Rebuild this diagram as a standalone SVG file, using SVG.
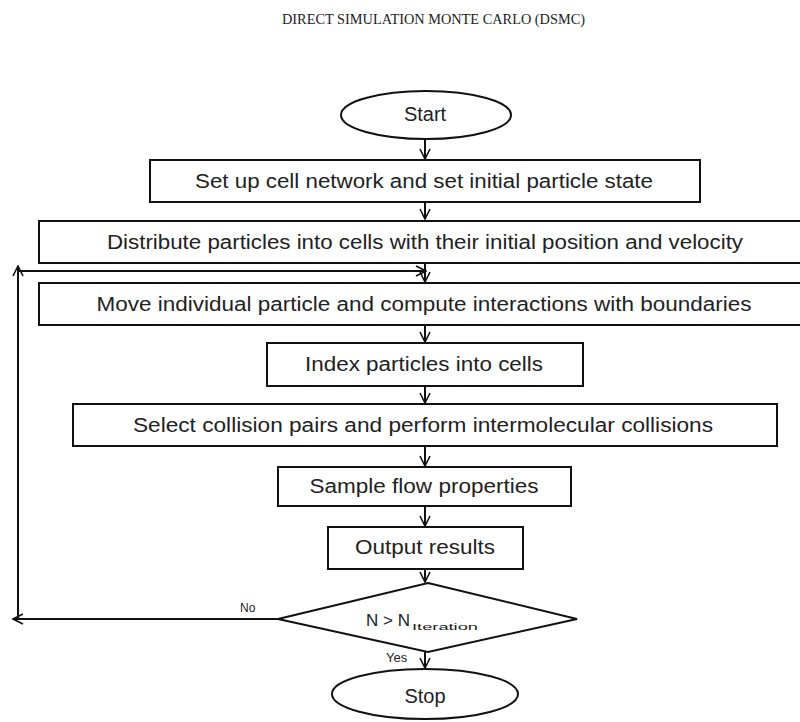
<svg xmlns="http://www.w3.org/2000/svg" width="800" height="722" viewBox="0 0 800 722">
<style>
.box{fill:#fff;stroke:#111;stroke-width:2}
.lbl{font-family:"Liberation Sans",Arial,sans-serif;font-size:20px;fill:#222;text-anchor:middle}
.sm{font-family:"Liberation Sans",Arial,sans-serif;font-size:12px;fill:#222}
.con{fill:none;stroke:#111;stroke-width:2}
.title{font-family:"Liberation Serif","Times New Roman",serif;font-size:15px;fill:#222}
</style>
<defs>
<marker id="arr" viewBox="0 0 12 12" refX="11" refY="6" markerWidth="12" markerHeight="12" markerUnits="userSpaceOnUse" orient="auto">
<path d="M1,1 L11,6 L1,11" fill="none" stroke="#111" stroke-width="1.6"/>
</marker>
</defs>
<rect width="800" height="722" fill="#fff"/>
<text class="title" x="282" y="24" textLength="303" lengthAdjust="spacingAndGlyphs">DIRECT SIMULATION MONTE CARLO (DSMC)</text>

<g id="connectors">
<line class="con" x1="425" y1="139" x2="425" y2="159" marker-end="url(#arr)"/>
<line class="con" x1="425" y1="202" x2="425" y2="219" marker-end="url(#arr)"/>
<line class="con" x1="425" y1="263" x2="425" y2="282" marker-end="url(#arr)"/>
<line class="con" x1="425" y1="325" x2="425" y2="342" marker-end="url(#arr)"/>
<line class="con" x1="425" y1="386" x2="425" y2="403" marker-end="url(#arr)"/>
<line class="con" x1="425" y1="446" x2="425" y2="466" marker-end="url(#arr)"/>
<line class="con" x1="425" y1="506" x2="425" y2="526" marker-end="url(#arr)"/>
<line class="con" x1="425" y1="569" x2="425" y2="582" marker-end="url(#arr)"/>
<line class="con" x1="425" y1="652" x2="425" y2="668" marker-end="url(#arr)"/>
<line class="con" x1="278" y1="619" x2="13" y2="619" marker-end="url(#arr)"/>
<line class="con" x1="18" y1="619" x2="18" y2="266" marker-end="url(#arr)"/>
<line class="con" x1="18" y1="271" x2="426" y2="271" marker-end="url(#arr)"/>
<text class="sm" x="240" y="612">No</text>
<text class="sm" x="386" y="662" style="font-size:13px">Yes</text>
</g>

<g id="start">
<ellipse class="box" cx="426" cy="115" rx="85" ry="24"/>
<text class="lbl" x="425" y="121">Start</text>
</g>
<g id="setup">
<rect class="box" x="150" y="160" width="550" height="42"/>
<text class="lbl" x="424" y="188" textLength="458" lengthAdjust="spacingAndGlyphs">Set up cell network and set initial particle state</text>
</g>
<g id="distribute">
<rect class="box" x="39" y="221" width="775" height="42"/>
<text class="lbl" x="425" y="249" textLength="636" lengthAdjust="spacingAndGlyphs">Distribute particles into cells with their initial position and velocity</text>
</g>
<g id="move">
<rect class="box" x="39" y="283" width="775" height="42"/>
<text class="lbl" x="424" y="311" textLength="655" lengthAdjust="spacingAndGlyphs">Move individual particle and compute interactions with boundaries</text>
</g>
<g id="index">
<rect class="box" x="267" y="343" width="316" height="43"/>
<text class="lbl" x="424" y="371" textLength="238" lengthAdjust="spacingAndGlyphs">Index particles into cells</text>
</g>
<g id="select">
<rect class="box" x="73" y="404" width="704" height="42"/>
<text class="lbl" x="423" y="432" textLength="580" lengthAdjust="spacingAndGlyphs">Select collision pairs and perform intermolecular collisions</text>
</g>
<g id="sample">
<rect class="box" x="278" y="467" width="293" height="39"/>
<text class="lbl" x="424" y="493" textLength="229" lengthAdjust="spacingAndGlyphs">Sample flow properties</text>
</g>
<g id="output">
<rect class="box" x="328" y="527" width="195" height="42"/>
<text class="lbl" x="425" y="554" textLength="140" lengthAdjust="spacingAndGlyphs">Output results</text>
</g>
<g id="decision">
<polygon class="box" points="428,583 577,619 428,652 278,619"/>
<text class="sm" x="366" y="626" style="font-size:17px">N &gt; N</text>
<text class="sm" x="412" y="630" style="font-size:9px" textLength="66" lengthAdjust="spacingAndGlyphs">Iteration</text>
</g>
<g id="stop">
<ellipse class="box" cx="425" cy="694" rx="93" ry="25"/>
<text class="lbl" x="425" y="703">Stop</text>
</g>
</svg>
